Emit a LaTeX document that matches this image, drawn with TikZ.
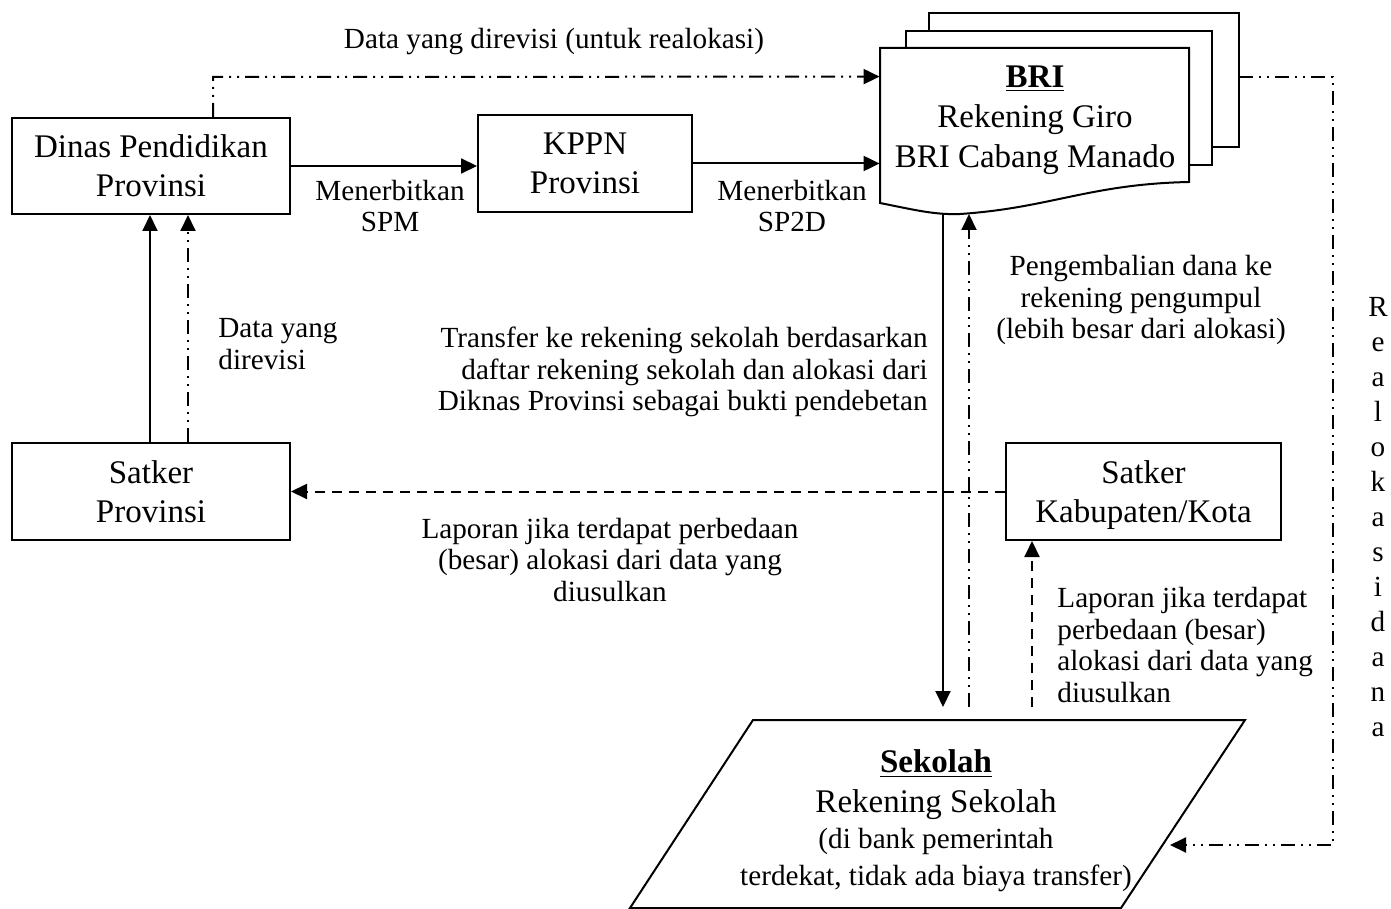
\documentclass[tikz,border=0pt]{standalone}
\usepackage{fontspec}
\setmainfont{Liberation Serif}
\usetikzlibrary{arrows.meta}
\newcommand\fbig{\fontsize{16.5}{19.5}\selectfont}
\newcommand\fsml{\fontsize{14.6}{15.8}\selectfont}
\tikzset{
  box/.style={draw, line width=1pt, align=center, font=\fbig, inner sep=0pt},
  lbl/.style={font=\fsml, inner sep=0pt},
  ln/.style={line width=1pt},
  arr/.style={line width=1pt, -{Triangle[length=8pt,width=7.5pt]}},
  dd/.style={dash pattern=on 7pt off 3pt on 1pt off 3pt on 1pt off 3pt},
  dsh/.style={dash pattern=on 5pt off 3.5pt},
}
\begin{document}
\begin{tikzpicture}[x=0.5pt,y=-0.5pt]
\useasboundingbox (0,0) rectangle (1391,909);

% boxes
\node[box, minimum width=139pt, minimum height=48pt] (dinas) at (151,166) {Dinas Pendidikan\\Provinsi};
\node[box, minimum width=107pt, minimum height=48.5pt] (kppn) at (585,163.5) {KPPN\\Provinsi};
\node[box, minimum width=139pt, minimum height=48.5pt] (satprov) at (151,491.5) {Satker\\Provinsi};
\node[box, minimum width=137.5pt, minimum height=48.5pt] (satkab) at (1143.5,491.5) {Satker\\\raisebox{0pt}[\height][0pt]{Kabupaten/Kota}};

% BRI multi-document
\draw[ln, fill=white] (929,13) rectangle (1239,147);
\draw[ln, fill=white] (906,31) rectangle (1212,165);
\draw[ln, fill=white] (880,203) -- (880,48) -- (1189,48) -- (1189,182)
  .. controls (1090,184) and (1050,208) .. (960,214)
  .. controls (935,215) and (915,210) .. (880,203) -- cycle;
\node[inner sep=0pt, minimum width=154.5pt, minimum height=77.5pt] (bri) at (1034.5,125.5) {};
\node[align=center, font=\fontsize{16.5}{20}\selectfont, inner sep=0pt] (britxt) at (1035,120) {\underline{\textbf{BRI}}\\Rekening Giro\\BRI Cabang Manado};

% Sekolah parallelogram
\draw[ln] (753,720) -- (1245,720) -- (1121,908) -- (630,908) -- cycle;
\node[align=center, inner sep=0pt, font=\fontsize{14.6}{18}\selectfont] (sek) at (936,821)
  {{\fbig\underline{\textbf{Sekolah}}}\\[2pt]{\fbig Rekening Sekolah}\\{(di bank pemerintah\hspace{25pt}}\\[0.5pt]{terdekat, tidak ada biaya transfer)}};

% coordinates for free ends
\coordinate (briB1) at (943,213);
\coordinate (briB2) at (969,214);
\coordinate (sekT1) at (943,707);
\coordinate (sekT2) at (969,707);
\coordinate (sekT3) at (1032,707);
\coordinate (sekR) at (1170,845);
\coordinate (rtop) at (1333,77);
\coordinate (rbot) at (1333,845);
\coordinate (ltop) at (213,77);

% connectors
\draw[arr] (dinas.east) -- (kppn.west |- dinas.east);
\draw[arr] (kppn.east) -- (bri.west |- kppn.east);
\draw[arr, dd] ([xshift=31pt]dinas.north) -- (ltop) -- ([yshift=-14.5pt]bri.north west);
\draw[arr] ([xshift=-0.5pt]satprov.north) -- ([xshift=-0.5pt]dinas.south);
\draw[arr, dd] ([xshift=18.5pt]satprov.north) -- ([xshift=18.5pt]dinas.south);
\draw[arr, dsh] (satkab.west) -- (satprov.east);
\draw[arr] (briB1) -- (sekT1);
\draw[arr, dd] (sekT2) -- (briB2);
\draw[arr, dsh] (sekT3) -- (satkab.south -| sekT3);
\draw[arr, dd] (1239,77) -- (rtop) -- (rbot) -- (sekR);

% labels
\node[lbl] (lbltop) at (554,42) {Data yang direvisi (untuk realokasi)};
\node[lbl, align=center] (lblspm) at (390,206) {Menerbitkan\\SPM};
\node[lbl, align=center] (lblsp2d) at (792,206) {Menerbitkan\\SP2D};
\node[lbl, align=left, anchor=west] (lbldir) at (218,344) {Data yang\\direvisi};
\node[lbl, align=right, anchor=east] (lbltrf) at (928,372) {Transfer ke rekening sekolah berdasarkan\\daftar rekening sekolah dan alokasi dari\\Diknas Provinsi sebagai bukti pendebetan};
\node[lbl, align=center] (lblkmb) at (1141,300) {Pengembalian dana ke\\rekening pengumpul\\(lebih besar dari alokasi)};
\node[lbl, align=center] (lbllap1) at (610,560) {Laporan jika terdapat perbedaan\\(besar) alokasi dari data yang\\diusulkan};
\node[lbl, align=left, anchor=west] (lbllap2) at (1057,645) {Laporan jika terdapat\\perbedaan (besar)\\alokasi dari data yang\\diusulkan};
\node[font=\fontsize{14.6}{17.5}\selectfont, align=center, inner sep=0pt] (lblreal) at (1378,517) {R\\e\\a\\l\\o\\k\\a\\s\\i\\d\\a\\n\\a};
\end{tikzpicture}
\end{document}
